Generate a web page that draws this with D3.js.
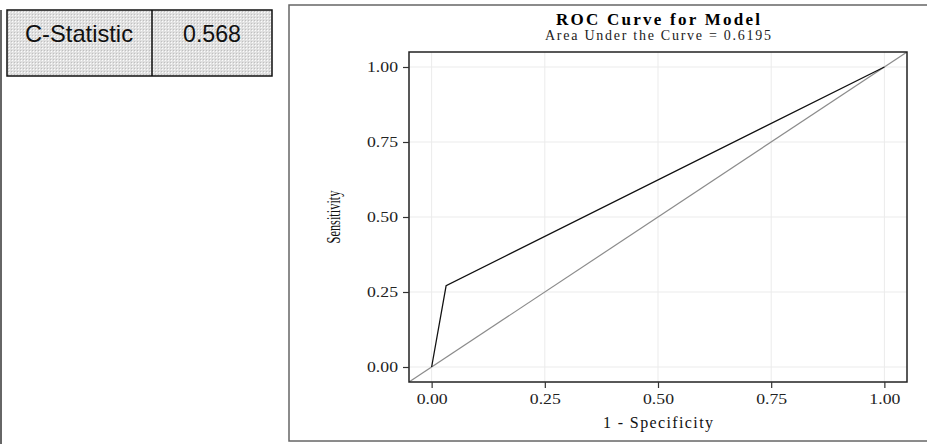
<!DOCTYPE html>
<html>
<head>
<meta charset="utf-8">
<script src="https://cdn.jsdelivr.net/npm/d3@7"></script>
<style>
  body { margin: 0; background: #fff; }
  svg { display: block; }
</style>
</head>
<body>
<div id="chart"></div>
<script>
// ROC points (1 - specificity, sensitivity)
var fpr = [0, 0.032, 1];
var tpr = [0, 0.271, 1];
var ticks = [0, 0.25, 0.5, 0.75, 1];
var statLabel = "C-Statistic";
var statValue = "0.568";
var aucText = "Area Under the Curve = 0.6195";

var W = 927, H = 444;
var svg = d3.select("#chart").append("svg")
  .attr("width", W).attr("height", H);

// stipple pattern for the table cells
var defs = svg.append("defs");
var pat = defs.append("pattern")
  .attr("id", "stip").attr("width", 3).attr("height", 3)
  .attr("patternUnits", "userSpaceOnUse");
pat.append("rect").attr("width", 3).attr("height", 3).attr("fill", "#e0e0e0");
pat.append("rect").attr("width", 1).attr("height", 1).attr("fill", "#fcfcfc");
pat.append("rect").attr("x", 2).attr("y", 2).attr("width", 1).attr("height", 1).attr("fill", "#c0c0c0");

// left edge line
svg.append("line")
  .attr("x1", 1).attr("x2", 1).attr("y1", 10).attr("y2", H)
  .attr("stroke", "#666").attr("stroke-width", 2);

// stat table
var tbl = svg.append("g");
tbl.append("rect")
  .attr("x", 7).attr("y", 10).attr("width", 265).attr("height", 66)
  .attr("fill", "url(#stip)").attr("stroke", "#111").attr("stroke-width", 1.5);
tbl.append("line")
  .attr("x1", 152).attr("x2", 152).attr("y1", 10).attr("y2", 76)
  .attr("stroke", "#111").attr("stroke-width", 1.5);
tbl.append("text")
  .attr("x", 25).attr("y", 42)
  .attr("textLength", 108).attr("lengthAdjust", "spacingAndGlyphs")
  .style("font", "24px 'Liberation Sans', Arial, sans-serif")
  .attr("fill", "#111")
  .text(statLabel);
tbl.append("text")
  .attr("x", 183).attr("y", 42)
  .attr("textLength", 58).attr("lengthAdjust", "spacingAndGlyphs")
  .style("font", "24px 'Liberation Sans', Arial, sans-serif")
  .attr("fill", "#111")
  .text(statValue);

// chart panel frame
svg.append("rect")
  .attr("x", 289).attr("y", 5).attr("width", 660).attr("height", 436)
  .attr("fill", "none").attr("stroke", "#666").attr("stroke-width", 1.5);

var margin = {left: 409, top: 52, right: 907, bottom: 382};
var x = d3.scaleLinear().domain([-0.05, 1.05]).range([margin.left, margin.right]);
var y = d3.scaleLinear().domain([-0.05, 1.05]).range([margin.bottom, margin.top]);

var main = svg.append("g");

defs.append("clipPath").attr("id", "clip")
  .append("rect").attr("x", margin.left).attr("y", margin.top)
  .attr("width", margin.right - margin.left).attr("height", margin.bottom - margin.top);

// grid lines
main.selectAll(".gx").data(ticks).enter().append("line")
  .attr("x1", function(d) { return x(d); }).attr("x2", function(d) { return x(d); })
  .attr("y1", margin.top).attr("y2", margin.bottom)
  .attr("stroke", "#ebebeb").attr("stroke-width", 1);
main.selectAll(".gy").data(ticks).enter().append("line")
  .attr("y1", function(d) { return y(d); }).attr("y2", function(d) { return y(d); })
  .attr("x1", margin.left).attr("x2", margin.right)
  .attr("stroke", "#ebebeb").attr("stroke-width", 1);

// reference diagonal
main.append("line")
  .attr("clip-path", "url(#clip)")
  .attr("x1", x(-0.05)).attr("y1", y(-0.05))
  .attr("x2", x(1.05)).attr("y2", y(1.05))
  .attr("stroke", "#8c8c8c").attr("stroke-width", 1.2);

// roc curve
var pts = fpr.map(function(d, i) { return [d, tpr[i]]; });
var line = d3.line()
  .x(function(d) { return x(d[0]); })
  .y(function(d) { return y(d[1]); });
main.append("path")
  .datum(pts)
  .attr("fill", "none")
  .attr("stroke", "#111")
  .attr("stroke-width", 1.3)
  .attr("d", line);

// panel border
main.append("rect")
  .attr("x", margin.left).attr("y", margin.top)
  .attr("width", margin.right - margin.left).attr("height", margin.bottom - margin.top)
  .attr("fill", "none").attr("stroke", "#222").attr("stroke-width", 1.5);

// axes
var fmt = d3.format(".2f");
var xAxis = d3.axisBottom(x).tickValues(ticks).tickFormat(fmt).tickSize(6).tickPadding(5);
var yAxis = d3.axisLeft(y).tickValues(ticks).tickFormat(fmt).tickSize(6).tickPadding(5);

var gx = main.append("g").attr("transform", "translate(0," + margin.bottom + ")").call(xAxis);
var gy = main.append("g").attr("transform", "translate(" + margin.left + ",0)").call(yAxis);
[gx, gy].forEach(function(g) {
  g.select(".domain").remove();
  g.selectAll(".tick line").attr("stroke", "#333").attr("stroke-width", 1.2);
  g.selectAll(".tick text")
    .attr("fill", "#222")
    .attr("textLength", 31).attr("lengthAdjust", "spacingAndGlyphs")
    .style("font", "15px 'Liberation Serif', 'Times New Roman', serif");
});

// titles
svg.append("text")
  .attr("x", (margin.left + margin.right) / 2).attr("y", 25)
  .attr("text-anchor", "middle")
  .attr("textLength", 204).attr("lengthAdjust", "spacing")
  .style("font", "bold 17px 'Liberation Serif', 'Times New Roman', serif")
  .text("ROC Curve for Model");
svg.append("text")
  .attr("x", (margin.left + margin.right) / 2).attr("y", 40)
  .attr("text-anchor", "middle")
  .attr("textLength", 226).attr("lengthAdjust", "spacing")
  .style("font", "14px 'Liberation Serif', 'Times New Roman', serif")
  .attr("fill", "#222")
  .text(aucText);

svg.append("text")
  .attr("text-anchor", "middle")
  .attr("x", (margin.left + margin.right) / 2).attr("y", 428)
  .attr("textLength", 110).attr("lengthAdjust", "spacing")
  .style("font", "16px 'Liberation Serif', 'Times New Roman', serif")
  .attr("fill", "#111")
  .text("1 - Specificity");

svg.append("text")
  .attr("text-anchor", "middle")
  .attr("transform", "translate(340," + ((margin.top + margin.bottom) / 2) + ")rotate(-90)")
  .attr("textLength", 53).attr("lengthAdjust", "spacingAndGlyphs")
  .style("font", "19px 'Liberation Serif', 'Times New Roman', serif")
  .attr("fill", "#111")
  .text("Sensitivity");
</script>
</body>
</html>
